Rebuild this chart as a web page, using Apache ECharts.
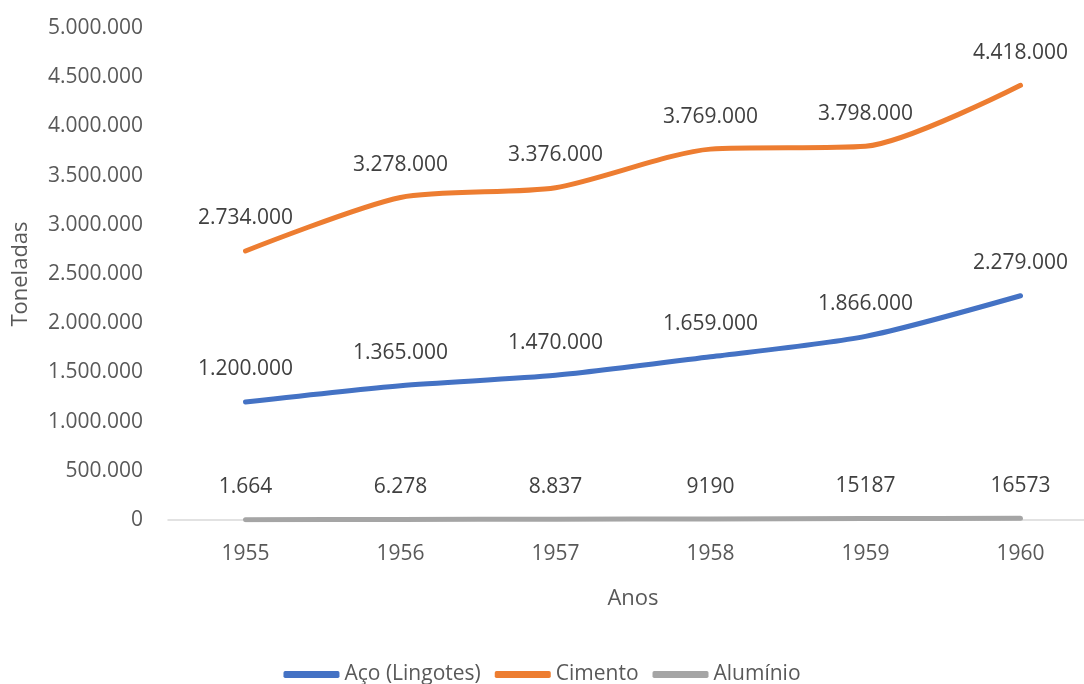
<!DOCTYPE html>
<html>
<head>
<meta charset="utf-8">
<script src="https://cdn.jsdelivr.net/npm/echarts@6/dist/echarts.min.js"></script>
<style>
  html, body { margin: 0; padding: 0; background: #fff; }
  #chart { width: 1084px; height: 684px; }
</style>
</head>
<body>
<div id="chart"></div>
<script>
const anos = ['1955', '1956', '1957', '1958', '1959', '1960']
const aco = [1200000, 1365000, 1470000, 1659000, 1866000, 2279000]
const cimento = [2734000, 3278000, 3376000, 3769000, 3798000, 4418000]
const aluminio = [1664, 6278, 8837, 9190, 15187, 16573]
// rótulos do alumínio como aparecem no gráfico original
const aluminioLabels = ['1.664', '6.278', '8.837', '9190', '15187', '16573']

const FONT = 'Open Sans'
const TXT = '#595959'

// separador de milhar com ponto
const fmt = (v) => String(v).replace(/\B(?=(\d{3})+(?!\d))/g, '.')

const chart = echarts.init(document.getElementById('chart'))

const labelStyle = {
  show: true,
  position: 'top',
  distance: 22,
  color: '#404040',
  fontFamily: FONT,
  fontSize: 21
}

const lineSerie = (name, data, color, labelFmt) => ({
  name,
  type: 'line',
  smooth: 0.25,
  data,
  color,
  lineStyle: { width: 5, cap: 'round' },
  showSymbol: true,
  symbol: 'circle',
  symbolSize: 0,
  label: { ...labelStyle, formatter: labelFmt }
})

chart.setOption({
  animation: false,
  textStyle: { fontFamily: FONT },
  grid: { left: 168, width: 930, top: 28, height: 492, outerBoundsMode: 'none', containLabel: false },
  legend: {
    bottom: -6,
    left: 'center',
    itemWidth: 56,
    itemHeight: 7,
    itemGap: 14,
    icon: 'roundRect',
    textStyle: { color: TXT, fontSize: 21, fontFamily: FONT },
    data: ['Aço (Lingotes)', 'Cimento', 'Alumínio']
  },
  xAxis: {
    type: 'category',
    data: anos,
    name: 'Anos',
    nameLocation: 'middle',
    nameGap: 68,
    nameTextStyle: { color: TXT, fontSize: 22, fontFamily: FONT },
    axisLine: { lineStyle: { color: '#d9d9d9', width: 1.5 } },
    axisTick: { show: false },
    axisLabel: { color: TXT, fontSize: 21, margin: 24 }
  },
  yAxis: {
    type: 'value',
    min: 0,
    max: 5000000,
    interval: 500000,
    name: 'Toneladas',
    nameLocation: 'middle',
    nameGap: 136,
    nameTextStyle: { color: TXT, fontSize: 22, fontFamily: FONT },
    splitLine: { show: false },
    axisLabel: {
      color: TXT,
      fontSize: 21,
      margin: 25,
      formatter: fmt
    }
  },
  series: [
    lineSerie('Aço (Lingotes)', aco, '#4472C4', (p) => fmt(p.value)),
    lineSerie('Cimento', cimento, '#ED7D31', (p) => fmt(p.value)),
    lineSerie('Alumínio', aluminio, '#A5A5A5', (p) => aluminioLabels[p.dataIndex])
  ]
})
</script>
</body>
</html>
